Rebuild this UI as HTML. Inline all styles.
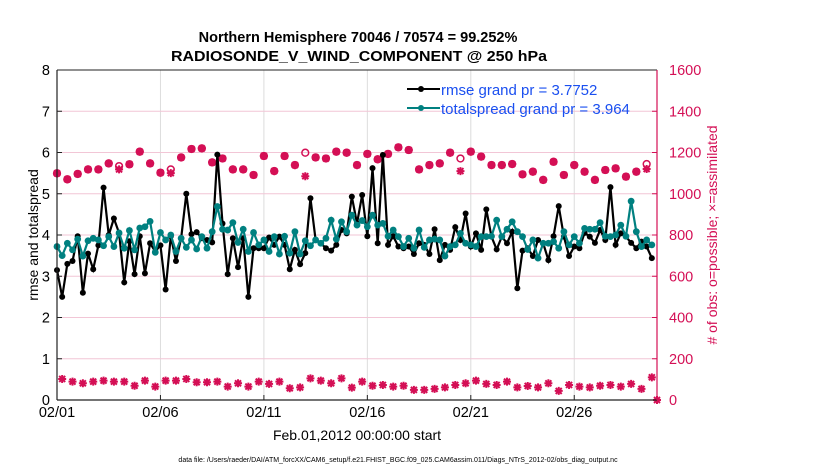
<!DOCTYPE html>
<html><head><meta charset="utf-8"><style>
body{margin:0;background:#fff}
svg text{font-family:"Liberation Sans",sans-serif}
</style></head><body>
<svg id="chart" width="830" height="470" xmlns="http://www.w3.org/2000/svg">
<text x="358" y="42" text-anchor="middle" font-size="14.5" font-weight="bold">Northern Hemisphere 70046 / 70574 = 99.252%</text>
<text x="359" y="61" text-anchor="middle" font-size="14.5" font-weight="bold" textLength="376" lengthAdjust="spacingAndGlyphs">RADIOSONDE_V_WIND_COMPONENT @ 250 hPa</text>
<g id="grid"></g><g id="obs"></g><g id="series"></g><g id="axes"></g>
<text transform="translate(38,235) rotate(-90)" text-anchor="middle" font-size="14">rmse and totalspread</text>
<text transform="translate(717,235) rotate(-90)" text-anchor="middle" font-size="14" fill="#d40f55"># of obs: o=possible; ×=assimilated</text>
<text x="357" y="440" text-anchor="middle" font-size="14">Feb.01,2012 00:00:00 start</text>
<text x="398" y="462" text-anchor="middle" font-size="7">data file: /Users/raeder/DAI/ATM_forcXX/CAM6_setup/f.e21.FHIST_BGC.f09_025.CAM6assim.011/Diags_NTrS_2012-02/obs_diag_output.nc</text>
<g>
<line x1="407" y1="89" x2="440" y2="89" stroke="#000" stroke-width="2"/><circle cx="421" cy="89" r="3" fill="#000"/>
<text x="441" y="95" font-size="15" fill="#1a4ff0">rmse grand pr = 3.7752</text>
<line x1="407" y1="108" x2="440" y2="108" stroke="#008080" stroke-width="2"/><circle cx="421" cy="108" r="3" fill="#008080"/>
<text x="441" y="114" font-size="15" fill="#1a4ff0">totalspread grand pr = 3.964</text>
</g>
</svg>
<script>
const xTickLabels=["02/01","02/06","02/11","02/16","02/21","02/26"];
const xTickDays=[0,5,10,15,20,25];
const yLeftTicks=[0,1,2,3,4,5,6,7,8];
const yRightTicks=[0,200,400,600,800,1000,1200,1400,1600];
const rmse=[3.15,2.5,3.3,3.37,3.97,2.6,3.55,3.17,3.75,5.15,4.0,4.4,4.05,2.85,3.85,3.05,3.97,3.07,3.8,3.6,3.75,2.68,3.97,3.37,3.92,5.0,4.02,4.07,3.92,3.88,3.82,5.95,4.28,3.05,3.92,3.22,3.92,2.5,3.68,3.68,3.68,
3.94,3.76,3.96,3.76,3.17,3.64,3.29,3.56,4.89,3.88,3.8,3.68,3.62,3.76,4.12,4.04,4.93,4.28,4.97,3.97,5.62,3.8,5.94,3.76,3.97,3.72,3.68,3.72,3.54,3.8,3.76,3.54,4.14,3.39,3.76,3.64,4.19,3.88,
4.52,3.72,4.04,3.64,4.62,3.96,3.65,3.96,3.8,4.08,2.71,3.62,3.68,3.49,3.88,3.8,3.39,3.97,4.70,3.96,3.49,3.72,3.68,4.05,3.96,3.81,4.12,3.88,5.16,3.76,4.04,3.96,3.81,3.68,3.84,3.72,3.44];
const spread=[3.72,3.5,3.8,3.64,3.9,3.49,3.86,3.92,3.88,3.74,3.96,3.72,4.05,3.68,4.11,3.64,4.17,4.2,4.33,3.58,4.06,3.88,4.0,3.6,3.92,3.7,3.88,3.66,3.96,3.68,4.08,4.69,4.14,4.12,4.3,3.82,4.14,3.6,4.06,3.76,3.88,
3.6,3.96,3.54,3.97,3.56,4.08,3.54,3.86,3.74,3.88,3.8,3.92,4.36,3.9,4.32,4.08,4.48,4.24,4.35,4.2,4.48,4.24,4.28,3.97,4.12,3.96,3.72,3.92,3.68,4.12,3.7,3.88,3.9,3.88,3.49,3.72,3.76,4.04,
3.80,3.76,3.72,3.96,3.96,3.97,4.36,3.96,4.14,4.32,4.08,3.96,3.65,3.88,3.44,3.8,3.8,3.84,3.68,4.08,3.76,3.96,3.8,4.16,4.14,4.14,4.30,3.97,3.96,4.0,4.24,3.97,4.82,4.08,3.72,3.88,3.76];
const obsPossibleUpper=[1099,1070,1096,1118,1118,1147,1134,1143,1204,1147,1102,1118,1176,1217,1220,1152,1171,1118,1118,1091,1183,
1110,1183,1139,1199,1176,1171,1204,1199,1139,1193,1167,1193,1225,1212,1118,1139,1147,1199,1171,
1204,1180,1139,1139,1144,1094,1107,1067,1155,1091,1139,1107,1067,1115,1123,1083,1107,1144];
const obsAssimUpper=[1099,1070,1096,1118,1118,1147,1118,1143,1204,1147,1102,1100,1176,1217,1220,1152,1171,1118,1118,1091,1183,
1110,1183,1139,1085,1176,1171,1204,1199,1139,1193,1167,1193,1225,1212,1118,1139,1147,1199,1110,
1204,1180,1139,1139,1144,1094,1107,1067,1155,1091,1139,1107,1067,1115,1123,1083,1107,1120];
const obsLower=[102,89,81,89,94,89,89,69,94,65,94,94,102,86,86,89,65,81,65,89,78,89,57,61,105,94,81,105,60,
89,69,73,65,69,49,49,54,61,73,81,94,78,73,89,61,68,61,81,44,73,65,61,69,73,65,78,54,110,0];
const NS="http://www.w3.org/2000/svg";
const L=57,R=657,T=70,B=400,D0=0,D1=29;
const xs=d=>L+(d-D0)/(D1-D0)*(R-L);
const yl=v=>B-v/8*(B-T);
const yr=n=>B-n/1600*(B-T);
function mk(tag,attrs,parent){const e=document.createElementNS(NS,tag);for(const k in attrs)e.setAttribute(k,attrs[k]);parent.appendChild(e);return e;}
const grid=document.getElementById('grid'),axes=document.getElementById('axes'),obs=document.getElementById('obs'),ser=document.getElementById('series');
xTickDays.forEach((d,i)=>{
 const g=mk('line',{x1:xs(d),x2:xs(d),y1:T,y2:B,stroke:'#dcdcdc','stroke-width':1},grid);
 
 
 const t=mk('text',{x:xs(d),y:B+17,'text-anchor':'middle','font-size':14.5},axes);t.textContent=xTickLabels[i];
 
 
 mk('line',{x1:xs(d),x2:xs(d),y1:B,y2:B-5,stroke:'#222'},axes);
});
yRightTicks.forEach(n=>{
 if(n>0&&n<1600){const g=mk('line',{x1:L,x2:R,y1:yr(n),y2:yr(n),stroke:'#f2c6d6','stroke-width':1},grid);
 
 }
 const t=mk('text',{x:R+12,y:yr(n)+5,'font-size':14.5,fill:'#d40f55'},axes);t.textContent=n;
 
 
 mk('line',{x1:R,x2:R-5,y1:yr(n),y2:yr(n),stroke:'#d40f55'},axes);
});
yLeftTicks.forEach(v=>{
 const t=mk('text',{x:L-7,y:yl(v)+5,'text-anchor':'end','font-size':14.5},axes);t.textContent=v;
 
 
 mk('line',{x1:L,x2:L+5,y1:yl(v),y2:yl(v),stroke:'#222'},axes);
});
mk('line',{x1:L,x2:L,y1:T,y2:B,stroke:'#222','stroke-width':1.2},axes);
mk('line',{x1:L,x2:R,y1:B,y2:B,stroke:'#222','stroke-width':1.2},axes);
mk('line',{x1:L,x2:R,y1:T,y2:T,stroke:'#222','stroke-width':1},axes);
mk('line',{x1:R,x2:R,y1:T,y2:B,stroke:'#d40f55','stroke-width':1.2},axes);
const C='#d40f55';
function obsMark(x,y,name){
 const g=mk('g',{},obs);
 
 
 mk('path',{d:`M${x-4} ${y}H${x+4}M${x} ${y-4}V${y+4}M${x-3} ${y-3}L${x+3} ${y+3}M${x-3} ${y+3}L${x+3} ${y-3}`,stroke:C,'stroke-width':2},g);
 mk('circle',{cx:x,cy:y,r:2.3,fill:C},g);
}
obsPossibleUpper.forEach((n,i)=>{
 const x=xs(i*0.5);
 const c=mk('circle',{cx:x,cy:yr(n),r:3.4,fill:'none',stroke:C,'stroke-width':1.5},obs);
 
 
 obsMark(x,yr(obsAssimUpper[i]),'obs-assimilated-upper');
});
obsLower.forEach((n,i)=>{
 const d=Math.min(0.25+i*0.5,29);
 obsMark(xs(d),yr(n),'obs-lower');
});
function series(arr,col,name,r){
 const pts=arr.map((v,i)=>xs(i*0.25)+','+yl(v)).join(' ');
 const p=mk('polyline',{points:pts,fill:'none',stroke:col,'stroke-width':2.2},ser);
 
 
 arr.forEach((v,i)=>{
  const c=mk('circle',{cx:xs(i*0.25),cy:yl(v),r:r,fill:col},ser);
  
  
 });
}
series(rmse,'#000','rmse',3);
series(spread,'#008080','totalspread',3.4);
</script>
</body></html>
